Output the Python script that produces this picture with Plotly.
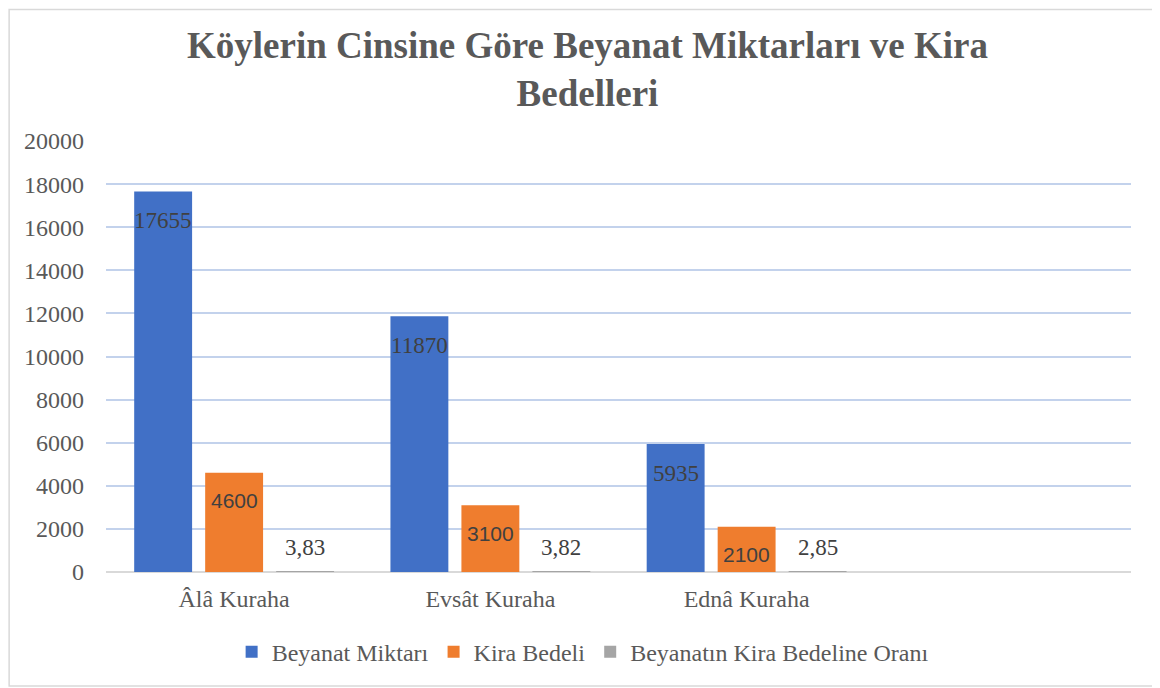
import plotly.graph_objects as go

categories = ["Âlâ Kuraha", "Evsât Kuraha", "Ednâ Kuraha"]
beyanat = [17655, 11870, 5935]
kira = [4600, 3100, 2100]
oran = [3.83, 3.82, 2.85]
series_names = ["Beyanat Miktarı", "Kira Bedeli", "Beyanatın Kira Bedeline Oranı"]
y_ticks = [0, 2000, 4000, 6000, 8000, 10000, 12000, 14000, 16000, 18000, 20000]

SERIF = "Liberation Serif, Times New Roman, serif"
SANS = "Liberation Sans, Arial, sans-serif"
colors = ["#4170c6", "#ef7d2e", "#a5a5a5"]
bar_w = 0.226
step = 0.277
xs = list(range(len(categories)))

fig = go.Figure()
series = [beyanat, kira, oran]
for k, (name, vals, col) in enumerate(zip(series_names, series, colors)):
    fig.add_trace(go.Bar(
        x=xs, y=vals, name=name,
        width=bar_w, offset=-bar_w / 2 + (k - 1) * step,
        marker=dict(color=col, line=dict(width=0)),
        hoverinfo="skip",
    ))

ann = []
for i in xs:
    ann.append(dict(x=i - step, y=beyanat[i], text=str(beyanat[i]), showarrow=False,
                    yanchor="middle", yshift=-29,
                    font=dict(family=SERIF, size=23, color="#404040")))
    ann.append(dict(x=i, y=kira[i], text=str(kira[i]), showarrow=False,
                    yanchor="middle", yshift=-28,
                    font=dict(family=SANS, size=21, color="#404040")))
    ann.append(dict(x=i + step, y=oran[i], text=f"{oran[i]:.2f}".replace(".", ","),
                    showarrow=False, yanchor="middle", yshift=24,
                    font=dict(family=SERIF, size=23, color="#404040")))

fig.update_layout(
    width=1152, height=680,
    margin=dict(l=98, r=29, t=133, b=116),
    paper_bgcolor="white", plot_bgcolor="white",
    title=dict(text="Köylerin Cinsine Göre Beyanat Miktarları ve Kira<br>Bedelleri",
               x=0.503, xanchor="center", y=0.927, yanchor="top",
               font=dict(family=SERIF, size=37, color="#595959", weight="bold")),
    showlegend=True,
    legend=dict(orientation="h", x=0.465, xanchor="center", y=-0.186, yanchor="middle",
                font=dict(family=SERIF, size=24, color="#595959"),
                bgcolor="rgba(0,0,0,0)"),
    annotations=ann,
    shapes=[dict(type="rect", xref="paper", yref="paper",
                 x0=-0.0945, x1=1.0263, y0=-0.2645, y1=1.305,
                 line=dict(color="#d9d9d9", width=1.5), layer="below")],
)
fig.update_xaxes(range=[-0.5, 3.5], tickvals=xs, ticktext=categories,
                 showgrid=False, zeroline=False, showline=False, ticks="",
                 ticklabelstandoff=10,
                 tickfont=dict(family=SERIF, size=24, color="#595959"))
fig.update_yaxes(range=[0, 20000], tickvals=y_ticks,
                 ticktext=[str(v) for v in y_ticks], showgrid=True,
                 gridcolor="#c3d2ec", gridwidth=1.5,
                 zeroline=True, zerolinecolor="#d9d9d9", zerolinewidth=2,
                 showline=False, ticks="", ticklabelstandoff=21,
                 tickfont=dict(family=SERIF, size=24, color="#595959"))

fig.write_html("out.html")
